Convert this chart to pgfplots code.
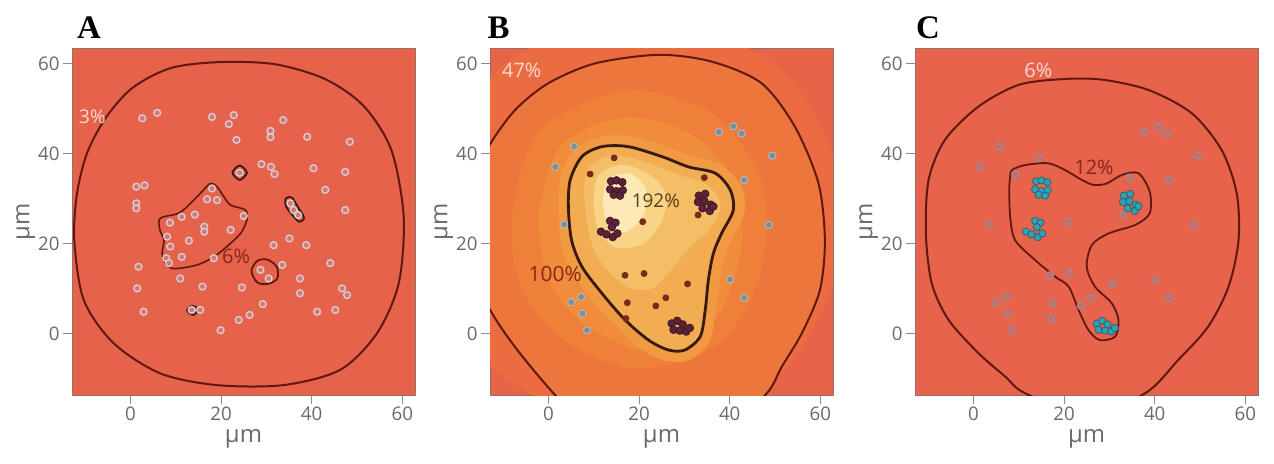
\documentclass[border=0pt]{standalone}
\usepackage{fontspec}
\setmainfont{Open Sans}
\newfontfamily\letterfont{Liberation Serif}
\usepackage{pgfplots}
\usepackage{pgfplotstable}
\pgfplotsset{compat=1.18}

\definecolor{bgA}{RGB}{231,98,75}
\definecolor{bgB}{RGB}{231,100,72}
\definecolor{bgC}{RGB}{232,99,76}
\definecolor{lvB0}{RGB}{234,108,64}
\definecolor{lvB1}{RGB}{236,118,60}
\definecolor{lvB2}{RGB}{238,128,57}
\definecolor{lvB3}{RGB}{240,140,58}
\definecolor{lvB4}{RGB}{241,154,66}
\definecolor{lvB5}{RGB}{242,172,82}
\definecolor{lvB6}{RGB}{244,190,102}
\definecolor{lvB7}{RGB}{247,212,136}
\definecolor{lvB8}{RGB}{251,234,182}
\definecolor{ringdark}{RGB}{95,25,18}
\definecolor{innerdark}{RGB}{55,25,15}
\definecolor{labgray}{RGB}{105,105,105}
\definecolor{tickgray}{RGB}{140,140,140}
\definecolor{framegray}{RGB}{150,110,100}
\definecolor{pctlight}{RGB}{250,218,208}
\definecolor{pctdark}{RGB}{135,38,26}
\definecolor{pctolive}{RGB}{90,60,30}
\definecolor{ringA}{RGB}{210,205,215}
\definecolor{fillA}{RGB}{220,118,104}
\definecolor{ringC}{RGB}{145,138,152}
\definecolor{cellin}{RGB}{120,42,28}
\definecolor{cellout}{RGB}{122,142,150}
\definecolor{clusB}{RGB}{92,34,56}
\definecolor{clusC}{RGB}{42,165,182}
\definecolor{clusCedge}{RGB}{60,92,112}

% cells of panel A
\pgfplotstableread{
x y
2.6 47.8
5.9 49.0
18.0 48.1
21.7 46.5
22.8 48.5
23.4 43.0
30.9 45.0
30.9 43.6
33.7 47.4
39.0 43.7
48.4 42.6
40.4 36.7
47.4 35.9
43.0 31.9
47.4 27.4
28.9 37.6
31.0 37.0
31.8 35.4
24.1 35.7
1.3 32.6
3.1 32.9
1.3 28.9
1.3 27.8
35.3 28.9
36.0 27.4
37.0 26.3
35.1 21.1
38.8 19.6
31.6 19.6
33.5 15.2
44.1 15.6
37.4 12.2
37.4 8.9
46.7 10.0
47.8 8.5
28.7 14.1
30.5 12.2
1.8 14.8
1.5 10.0
2.9 4.8
11.0 12.2
15.9 10.4
24.6 10.2
13.5 5.2
15.4 5.2
29.2 6.5
26.3 4.1
23.9 3.0
19.9 0.7
41.2 4.8
45.2 5.2
18.0 32.2
16.9 29.8
19.1 29.6
25.0 26.1
22.1 23.0
16.3 23.7
16.3 22.6
14.2 26.4
11.3 25.9
8.7 24.6
8.1 21.5
8.8 19.3
7.9 16.7
8.5 15.6
12.9 20.6
11.3 17.0
18.4 16.7
}\cellsA

% cells of panels B and C, near the clusters
\pgfplotstableread{
x y
14.5 39.0
9.2 35.4
34.4 34.6
20.8 24.8
33.0 26.3
16.9 12.9
21.1 13.3
30.7 11.0
17.4 6.8
23.7 6.1
25.9 7.9
17.1 3.3
}\cellsIn

% cells of panels B and C, far from the clusters
\pgfplotstableread{
x y
37.6 44.7
40.8 46.0
42.6 44.4
49.4 39.5
43.2 34.1
5.7 41.5
1.5 37.0
3.5 24.2
48.6 24.1
40.1 12.0
43.2 7.9
5.0 6.9
7.2 8.1
7.5 4.4
8.5 0.7
}\cellsOut

% clustered cells
\pgfplotstableread{
x y
13.8 33.8
15.0 34.0
16.3 33.6
13.6 32.0
15.0 31.6
16.4 31.8
14.4 30.8
15.8 30.6
13.6 25.0
14.8 24.6
14.0 23.6
11.6 22.6
12.8 22.0
14.2 21.4
15.2 22.2
33.2 30.6
34.6 31.0
33.0 29.2
34.4 29.4
35.8 28.6
34.0 27.8
35.6 27.2
36.4 28.2
27.2 2.2
28.4 2.8
29.6 2.0
27.6 0.8
29.0 0.6
30.4 0.4
31.2 1.2
}\clusters

\tikzset{pct/.style={font=\fontsize{#1}{#1}\selectfont}}

\pgfplotsset{
  panel/.style={
    scale only axis, width=171.5bp, height=173bp,
    anchor=south west,
    xmin=-12.9, xmax=62.8, ymin=-13.7, ymax=63.2,
    xtick={0,20,40,60}, ytick={0,20,40,60},
    tick align=outside, major tick length=4.5bp,
    xtick pos=bottom, ytick pos=left,
    tick style={draw=tickgray, line width=0.5bp},
    axis line style={draw=framegray, line width=0.5bp},
    ticklabel style={font=\fontsize{9.4}{10}\selectfont, text=labgray, inner sep=1.5bp},
    /pgf/number format/assume math mode=true,
    xlabel={µm}, ylabel={µm},
    label style={font=\fontsize{12}{12}\selectfont, text=labgray},
    xlabel style={at={(axis description cs:0.5,-0.128)}, anchor=center},
    ylabel style={at={(axis description cs:-0.135,0.5)}, anchor=center},
  },
  contour/.style={draw=#1, smooth cycle, no markers, line width=1bp},
  lev/.style={fill=#1, draw=none, smooth cycle, no markers},
}

\begin{document}
\begin{tikzpicture}[x=1bp,y=1bp]
\path[use as bounding box] (0,0) rectangle (637,231.5);
\node[font=\letterfont\bfseries\fontsize{16.5}{16.5}\selectfont] at (44.5,217.5) {A};
\node[font=\letterfont\bfseries\fontsize{16.5}{16.5}\selectfont] at (249.3,217.5) {B};
\node[font=\letterfont\bfseries\fontsize{16.5}{16.5}\selectfont] at (464,217.5) {C};

% ---------------- A
\begin{axis}[panel, at={(36bp,34bp)}, axis background/.style={fill=bgA}]
\addplot[contour=ringdark] coordinates {(-12.4,20.7) (-11.8,31) (-9.6,40) (-5.4,48) (0.5,54.6) (9,59) (20,60.3) (32,59.8) (43,56.5) (51.5,50.5) (57.6,40.7) (60.3,25.9) (59.2,11.1) (54.4,0) (46.3,-8.1) (33.8,-11.5) (19.1,-11.5) (6.6,-8.9) (-3.7,-2.2) (-10.3,7.4)};
\addplot[contour=ringdark, line width=0.8bp] coordinates {(6.6,25.6) (11,26.9) (15.4,31.1) (17.6,33.3) (19.1,32.6) (20.6,30.4) (22.1,28.5) (25.4,27.4) (25.7,25.2) (24.3,22.2) (21.3,19.3) (18.4,17) (14.7,15.2) (9.6,14.4) (7.7,15.6) (7,17.8) (7.4,20.7) (6.5,23)};
\addplot[contour=innerdark, line width=0.9bp] coordinates {(22.5,35.7) (24.1,37.3) (25.7,35.7) (24.1,34.1)};
\addplot[contour=innerdark, line width=0.9bp] coordinates {(34.3,30) (35.6,30.2) (37,28) (38.3,25.7) (37.3,24.8) (35.8,26.2) (34.3,28.3)};
\addplot[contour=ringdark, line width=0.9bp] coordinates {(26.7,13.9) (28,16.1) (30.2,16.4) (32.3,14.8) (32.4,12.2) (30.4,11) (28,11.3)};
\addplot[contour=innerdark, line width=0.9bp] coordinates {(12.5,5.1) (13.6,6.1) (15.1,5.3) (13.8,4.1)};
\addplot[only marks, mark=*, mark size=1.7bp, mark options={fill=fillA, draw=ringA, line width=0.7bp}] table {\cellsA};
\node[pct=9.5, text=pctlight] at (axis cs:-8.4,48.1) {3\%};
\node[pct=10, text=pctdark] at (axis cs:23.3,17.2) {6\%};
\end{axis}

% ---------------- B
\begin{axis}[panel, at={(245bp,34bp)}, axis background/.style={fill=bgB}]
\addplot[lev=lvB0] coordinates {(-26,25) (-12.5,57.5) (20,71) (52.5,57.5) (66,25) (52.5,-7.5) (20,-21) (-12.5,-7.5)};
\addplot[lev=lvB1] coordinates {(-13.2,41.5) (-7.4,49.6) (0,55.6) (10.3,60) (24.3,61.9) (36,60.4) (47,55.6) (54.4,45.9) (59.6,33.3) (61,20.7) (59.9,9.6) (55.9,0) (51.5,-7.4) (48.2,-13.3) (40,-20) (24,-23) (8,-20) (1.1,-13.3) (-7.4,-3) (-13.2,5.9) (-16,15) (-16.5,25) (-15.5,35)};
\addplot[lev=lvB2] coordinates {(-8,26) (-2,45) (17,54) (36,49) (47,34) (47,14) (38,-2) (20,-8) (4,-2) (-6,10)};
\addplot[lev=lvB3] coordinates {(-2,27) (3,42) (17,48) (32,44) (42,32) (42,16) (36,2) (22,-4) (8,2) (0,12)};
\addplot[lev=lvB4] coordinates {(2.2,28) (2.6,35) (6,41) (12,43.8) (18,43.8) (26,41.5) (31.5,39.3) (37.5,37.8) (42.5,33) (43.3,27) (40.5,21) (38.5,16) (37.6,10) (36.8,4.5) (35.5,-2) (31,-6) (25.5,-6) (20.5,-3.5) (15,1.5) (9.5,7.5) (5,13.8) (2.7,20)};
\addplot[lev=lvB5] coordinates {(17.6,41.5) (25,39.3) (30.9,37) (36.8,35.6) (40.1,31.9) (40.8,27.4) (38.2,22.2) (36.4,17.8) (35.3,11.9) (34.6,5.2) (33.5,-0.7) (30.1,-3.7) (26.5,-3.7) (22.1,-1.5) (16.9,3) (11.8,8.9) (7.4,14.8) (5.1,20.7) (4.4,28.1) (4.8,34.1) (7.4,39.3) (11.8,41.5)};
\addplot[lev=lvB6] coordinates {(8,29) (8.5,36) (13,39.5) (20,38.5) (28,35.5) (35,33) (38,28.5) (35.5,23) (31,19) (27,14) (23,10) (18,10) (13,14) (9.5,20)};
\addplot[lev=lvB7] coordinates {(10,29) (11,35) (16,37.5) (22,35.5) (26,31) (25,25) (21,20) (15,19) (11,23)};
\addplot[lev=lvB8] coordinates {(12,30) (13.5,34.5) (18,35.5) (21.5,32) (21,26.5) (17,22.5) (13,24.5)};
\addplot[contour=ringdark] coordinates {(-13.2,41.5) (-7.4,49.6) (0,55.6) (10.3,60) (24.3,61.9) (36,60.4) (47,55.6) (54.4,45.9) (59.6,33.3) (61,20.7) (59.9,9.6) (55.9,0) (51.5,-7.4) (48.2,-13.3) (40,-20) (24,-23) (8,-20) (1.1,-13.3) (-7.4,-3) (-13.2,5.9) (-16,15) (-16.5,25) (-15.5,35)};
\addplot[contour=innerdark, line width=1.4bp] coordinates {(17.6,41.5) (25,39.3) (30.9,37) (36.8,35.6) (40.1,31.9) (40.8,27.4) (38.2,22.2) (36.4,17.8) (35.3,11.9) (34.6,5.2) (33.5,-0.7) (30.1,-3.7) (26.5,-3.7) (22.1,-1.5) (16.9,3) (11.8,8.9) (7.4,14.8) (5.1,20.7) (4.4,28.1) (4.8,34.1) (7.4,39.3) (11.8,41.5)};
\addplot[only marks, mark=*, mark size=1.8bp, mark options={fill=cellout, draw=cellout!60!white, line width=0.5bp}] table {\cellsOut};
\addplot[only marks, mark=*, mark size=1.5bp, mark options={fill=cellin, draw=cellin}] table {\cellsIn};
\addplot[only marks, mark=*, mark size=1.9bp, mark options={fill=clusB, draw=clusB!70!black, line width=0.4bp}] table {\clusters};
\node[pct=10, text=pctlight] at (axis cs:-5.9,58.4) {47\%};
\node[pct=9.5, text=pctolive] at (axis cs:23.7,29.5) {192\%};
\node[pct=10.5, text=pctdark] at (axis cs:1.5,13.2) {100\%};
\end{axis}

% ---------------- C
\begin{axis}[panel, at={(457.5bp,34bp)}, axis background/.style={fill=bgC}]
\addplot[contour=ringdark] coordinates {(19.5,56.5) (28.3,56.4) (38.6,54.1) (48.2,48.9) (54.8,40.7) (58.1,31.1) (58.5,20.7) (56.3,10.4) (51.8,1.5) (45.2,-5.9) (37.9,-13.3) (25,-18) (11.4,-13.3) (7,-9.6) (1.1,-4.4) (-5.5,3) (-9.2,11.1) (-10.5,22.2) (-9.9,34.1) (-6.3,43) (1.1,50.4) (9.9,55.2)};
\addplot[contour=ringdark, line width=0.9bp] coordinates {(8.5,36.3) (11.4,37.4) (16.5,37.8) (20.2,36.3) (23.9,34.1) (26.5,33) (29.4,33.3) (32.7,35.2) (36.4,35.6) (38.9,31.5) (38.9,26.7) (35.7,24.1) (29.8,22.2) (26.1,19.6) (25,14.8) (26.8,10.4) (30.5,6.7) (32,3) (31.3,-0.7) (27.9,-1.5) (25.4,0.7) (23.2,5.2) (21,10.4) (18,12.6) (13.6,16.3) (9.2,20.7) (8.1,25.9) (7.9,31.9) (8.1,34.8)};
\addplot[only marks, mark=*, mark size=1.7bp, mark options={fill=bgC, draw=ringC, line width=0.8bp}] table {\cellsOut};
\addplot[only marks, mark=*, mark size=1.7bp, mark options={fill=bgC, draw=ringC, line width=0.8bp}] table {\cellsIn};
\addplot[only marks, mark=*, mark size=1.8bp, mark options={fill=clusC, draw=clusCedge, line width=0.4bp}] table {\clusters};
\node[pct=10, text=pctlight] at (axis cs:14.3,58.4) {6\%};
\node[pct=10, text=pctdark] at (axis cs:26.6,36.9) {12\%};
\end{axis}
\end{tikzpicture}
\end{document}
